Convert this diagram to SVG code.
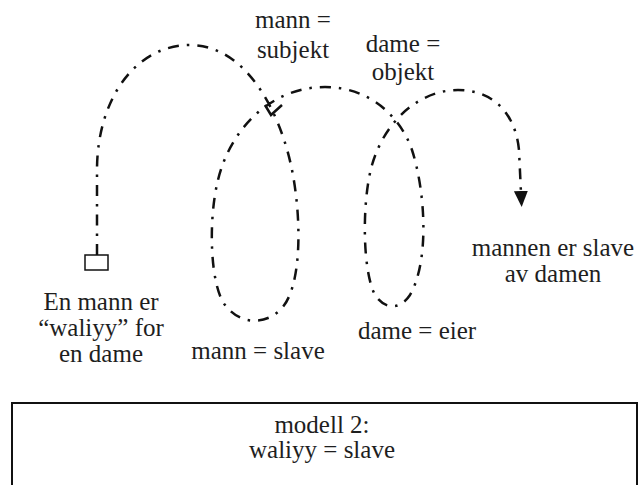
<svg xmlns="http://www.w3.org/2000/svg" width="640" height="485" viewBox="0 0 640 485">
<defs>
<style>
.t{font-family:"Liberation Serif","Times New Roman",serif;font-size:25px;fill:#1e1e1e;text-anchor:middle}
.dd{fill:none;stroke:#111;stroke-width:2.5;stroke-dasharray:11 8 2.5 8;stroke-linecap:butt}
</style>
<marker id="ah" markerUnits="userSpaceOnUse" markerWidth="20" markerHeight="20" refX="2" refY="7" orient="auto">
<path d="M0,0 L16,7 L0,14 z" fill="#111"/>
</marker>
</defs>
<rect width="640" height="485" fill="#fff"/>
<g id="connectors">
<path class="dd" marker-end="url(#ah)" d="M97 255 L97 170 C97 100 135 45 190 45 C245 45 280 110 292 170 C302 220 302 290 280 310 C265 325 240 325 225 305 C210 285 208 220 218 180 C230 130 270 87 325 87 C368 87 400 115 412 150 C425 190 430 260 410 295 C400 310 385 310 375 295 C362 270 362 200 372 165 C385 120 420 90 458 90 C490 90 515 110 519 150 L521 193"/>
<polyline points="265,105 271,115 282,105" fill="none" stroke="#111" stroke-width="2.5"/>
</g>
<g id="start">
<rect x="85" y="255" width="23" height="15" fill="#fff" stroke="#111" stroke-width="1.5"/>
</g>
<g id="label-subjekt">
<text class="t" x="293" y="28">mann =</text>
<text class="t" x="293" y="58">subjekt</text>
</g>
<g id="label-objekt">
<text class="t" x="403" y="52">dame =</text>
<text class="t" x="403" y="80">objekt</text>
</g>
<g id="label-waliyy">
<text class="t" x="101" y="310">En mann er</text>
<text class="t" x="101" y="336">“waliyy” for</text>
<text class="t" x="101" y="362">en dame</text>
</g>
<g id="label-slave">
<text class="t" x="258" y="359">mann = slave</text>
</g>
<g id="label-eier">
<text class="t" x="417" y="339">dame = eier</text>
</g>
<g id="label-result">
<text class="t" x="553" y="256">mannen er slave</text>
<text class="t" x="553" y="282">av damen</text>
</g>
<g id="model-box">
<rect x="12" y="403" width="625" height="95" fill="none" stroke="#111" stroke-width="2"/>
<text class="t" x="322" y="433">modell 2:</text>
<text class="t" x="322" y="458">waliyy = slave</text>
</g>
</svg>
